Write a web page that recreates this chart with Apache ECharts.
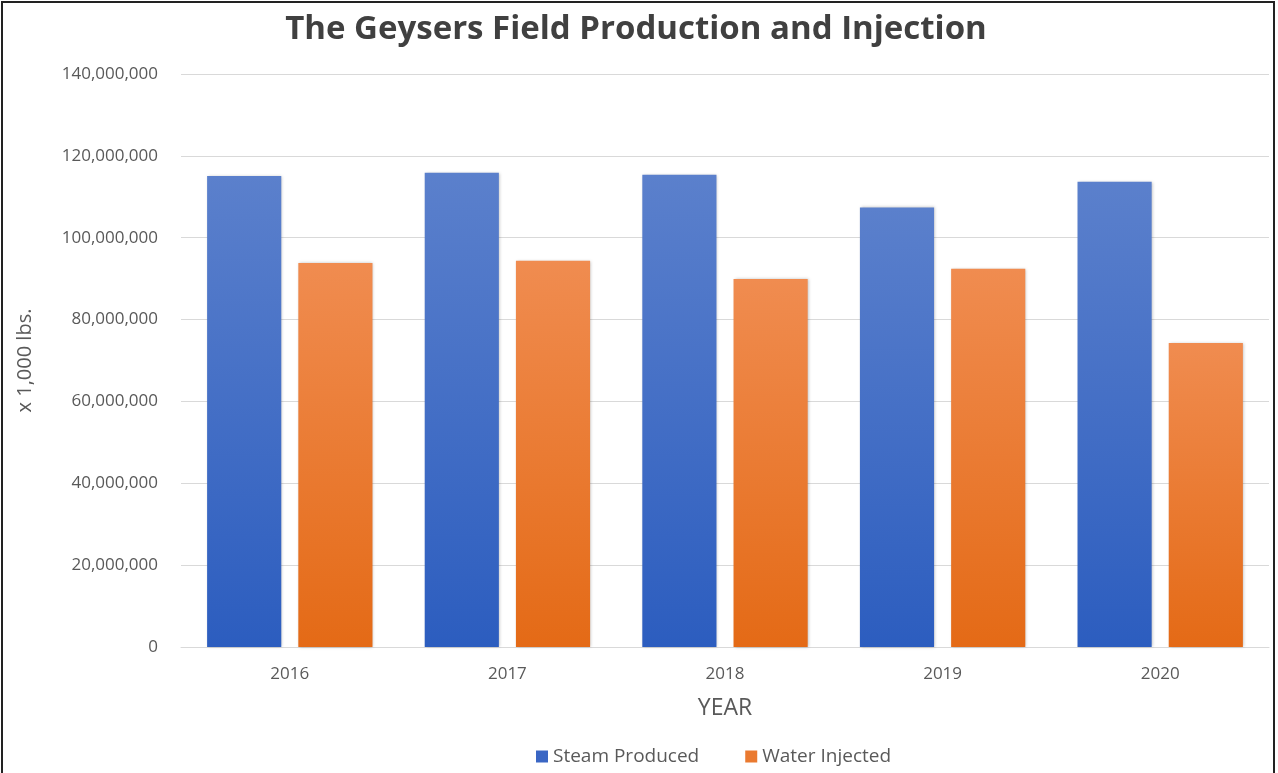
<!DOCTYPE html>
<html>
<head>
<meta charset="utf-8">
<script src="https://cdn.jsdelivr.net/npm/echarts@6/dist/echarts.min.js"></script>
<style>
  html, body { margin: 0; padding: 0; background: #fff; overflow: hidden; }
  #chart {
    position: absolute; left: 1px; top: 1px;
    width: 1274px; height: 776px;
    border: 2px solid #222; box-sizing: border-box;
  }
</style>
</head>
<body>
<div id="chart"></div>
<script>
  var years = ['2016', '2017', '2018', '2019', '2020'];
  var steamProduced = [115100000, 115900000, 115400000, 107400000, 113700000];
  var waterInjected = [93800000, 94400000, 89900000, 92400000, 74300000];
  var yTicks = { min: 0, max: 140000000, interval: 20000000 };

  var chart = echarts.init(document.getElementById('chart'));

  function grad(top, bottom) {
    return new echarts.graphic.LinearGradient(0, 0, 0, 1, [
      { offset: 0, color: top },
      { offset: 1, color: bottom }
    ]);
  }

  var textColor = '#595959';

  chart.setOption({
    animation: false,
    title: {
      text: 'The Geysers Field Production and Injection',
      left: 628, top: 5, textAlign: 'center',
      textStyle: { fontFamily: 'Open Sans', fontSize: 33, fontWeight: 'bold', color: '#404040' }
    },
    legend: {
      top: 739, left: 528,
      itemWidth: 12, itemHeight: 12, itemGap: 46,
      icon: 'rect',
      textStyle: { fontFamily: 'Open Sans', fontSize: 19, color: textColor },
      data: [
        { name: 'Steam Produced', itemStyle: { color: '#3a66c4' } },
        { name: 'Water Injected', itemStyle: { color: '#ea7a30' } }
      ]
    },
    grid: { left: 178, right: 4, top: 71, bottom: 128 },
    xAxis: {
      type: 'category',
      data: years,
      name: 'YEAR',
      nameLocation: 'middle',
      nameGap: 50,
      nameTextStyle: { fontFamily: 'Open Sans', fontSize: 23, color: textColor },
      axisLine: { lineStyle: { color: '#d9d9d9' } },
      axisTick: { show: false },
      axisLabel: { fontFamily: 'Open Sans', fontSize: 17, color: textColor, margin: 19 }
    },
    yAxis: {
      type: 'value',
      min: yTicks.min, max: yTicks.max, interval: yTicks.interval,
      name: 'x 1,000 lbs.',
      nameLocation: 'middle',
      nameGap: 146,
      nameTextStyle: { fontFamily: 'Open Sans', fontSize: 20, color: textColor },
      axisLine: { show: false },
      axisTick: { show: false },
      splitLine: { lineStyle: { color: '#d9d9d9', width: 1 } },
      axisLabel: {
        fontFamily: 'Open Sans', fontSize: 17, color: textColor, margin: 23,
        formatter: function (v) { return v.toLocaleString('en-US'); }
      }
    },
    series: [
      {
        name: 'Steam Produced', type: 'bar', data: steamProduced,
        barGap: '23%', barCategoryGap: '24%',
        itemStyle: {
          color: grad('#5b80cc', '#2c5dbf'),
          shadowColor: 'rgba(0,0,0,0.25)', shadowBlur: 3, shadowOffsetX: 1
        }
      },
      {
        name: 'Water Injected', type: 'bar', data: waterInjected,
        itemStyle: {
          color: grad('#f08c50', '#e46a16'),
          shadowColor: 'rgba(0,0,0,0.25)', shadowBlur: 3, shadowOffsetX: 1
        }
      }
    ]
  });

  window.addEventListener('resize', function () { chart.resize(); });
</script>
</body>
</html>
